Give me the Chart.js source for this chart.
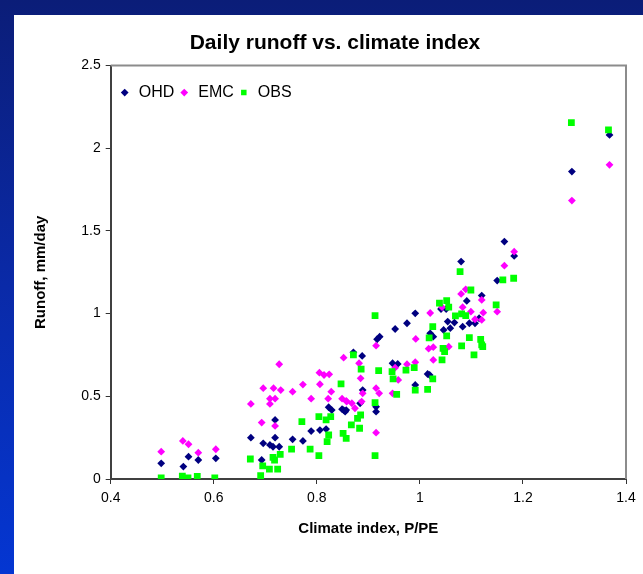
<!DOCTYPE html>
<html>
<head>
<meta charset="utf-8">
<script src="https://cdn.jsdelivr.net/npm/chart.js@4/dist/chart.umd.min.js"></script>
<style>
  html, body { margin: 0; padding: 0; }
  body {
    width: 643px; height: 574px; overflow: hidden; position: relative;
    background: linear-gradient(to bottom, #0b1d78 0%, #0a2aa8 50%, #0436d2 100%);
  }
  #panel { position: absolute; left: 14px; top: 15px; width: 629px; height: 559px; background: #fff; }
  #runoffChart { position: absolute; left: 0; top: 0; }
</style>
</head>
<body>
<div id="panel"><canvas id="runoffChart" width="629" height="559"></canvas></div>
<script>
// Datos: indice climatico (P/PE) y escorrentia (mm/dia)
const ohdX = [0.498, 0.541, 0.551, 0.570, 0.604, 0.672, 0.693, 0.696, 0.709, 0.715, 0.719, 0.719, 0.727, 0.753, 0.773,
  0.789, 0.806, 0.818, 0.823, 0.829, 0.849, 0.852, 0.855, 0.857, 0.871, 0.884, 0.888, 0.889, 0.915, 0.915,
  0.917, 0.922, 0.947, 0.952, 0.957, 0.975, 0.991, 0.991, 1.015, 1.019, 1.020, 1.026, 1.041, 1.046, 1.051,
  1.054, 1.059, 1.067, 1.080, 1.083, 1.091, 1.096, 1.107, 1.115, 1.120, 1.150, 1.164, 1.183, 1.295, 1.368];
const ohdY = [0.095, 0.075, 0.135, 0.115, 0.125, 0.250, 0.115, 0.216, 0.206, 0.195, 0.357, 0.250, 0.195, 0.240, 0.230,
  0.290, 0.296, 0.302, 0.434, 0.417, 0.422, 0.417, 0.407, 0.417, 0.766, 0.458, 0.744, 0.538, 0.437, 0.407,
  0.845, 0.861, 0.700, 0.907, 0.696, 0.942, 1.002, 0.569, 0.635, 0.629, 0.881, 0.861, 1.028, 0.901, 1.028,
  0.952, 0.912, 0.946, 1.315, 0.921, 1.077, 0.942, 0.942, 0.972, 1.109, 1.200, 1.436, 1.349, 1.859, 2.081];

const emcX = [0.498, 0.540, 0.551, 0.570, 0.604, 0.672, 0.693, 0.696, 0.709, 0.709, 0.716, 0.719, 0.719, 0.727, 0.730,
  0.753, 0.773, 0.789, 0.805, 0.806, 0.814, 0.822, 0.824, 0.828, 0.849, 0.852, 0.857, 0.858, 0.868, 0.874,
  0.882, 0.885, 0.887, 0.889, 0.915, 0.915, 0.915, 0.921, 0.947, 0.952, 0.958, 0.975, 0.991, 0.992, 1.017,
  1.020, 1.026, 1.026, 1.043, 1.046, 1.056, 1.080, 1.083, 1.089, 1.099, 1.107, 1.120, 1.120, 1.123, 1.150,
  1.164, 1.183, 1.295, 1.368];
const emcY = [0.165, 0.230, 0.210, 0.159, 0.180, 0.454, 0.341, 0.549, 0.486, 0.454, 0.549, 0.486, 0.321, 0.694, 0.538,
  0.528, 0.571, 0.486, 0.643, 0.573, 0.629, 0.486, 0.633, 0.528, 0.486, 0.734, 0.472, 0.468, 0.458, 0.428,
  0.700, 0.609, 0.468, 0.518, 0.806, 0.549, 0.280, 0.518, 0.518, 0.673, 0.599, 0.694, 0.706, 0.847, 0.788,
  1.004, 0.797, 0.720, 1.039, 0.780, 0.800, 1.119, 1.039, 1.147, 1.012, 0.966, 1.083, 0.962, 1.006, 1.012,
  1.290, 1.375, 1.684, 1.900];

const obsX = [0.498, 0.539, 0.550, 0.568, 0.602, 0.671, 0.691, 0.695, 0.708, 0.715, 0.718, 0.724, 0.729, 0.751, 0.771,
  0.787, 0.804, 0.804, 0.818, 0.820, 0.823, 0.827, 0.847, 0.851, 0.857, 0.867, 0.871, 0.879, 0.883, 0.885,
  0.886, 0.913, 0.913, 0.913, 0.920, 0.946, 0.948, 0.955, 0.973, 0.989, 0.991, 1.015, 1.018, 1.025, 1.025,
  1.038, 1.043, 1.045, 1.048, 1.052, 1.052, 1.056, 1.069, 1.078, 1.081, 1.081, 1.089, 1.096, 1.099, 1.105,
  1.118, 1.120, 1.122, 1.148, 1.161, 1.182, 1.294, 1.366];
const obsY = [0.006, 0.018, 0.006, 0.016, 0.006, 0.121, 0.020, 0.080, 0.060, 0.131, 0.115, 0.060, 0.149, 0.181, 0.347,
  0.181, 0.377, 0.141, 0.357, 0.226, 0.266, 0.377, 0.575, 0.276, 0.246, 0.327, 0.750, 0.367, 0.307, 0.387,
  0.665, 0.988, 0.462, 0.141, 0.655, 0.649, 0.605, 0.512, 0.659, 0.673, 0.538, 0.542, 0.854, 0.921, 0.605,
  1.063, 0.720, 0.790, 0.770, 1.079, 0.865, 1.039, 0.986, 1.254, 0.998, 0.805, 0.988, 0.855, 1.143, 0.750,
  0.845, 0.811, 0.800, 1.053, 1.204, 1.214, 2.155, 2.111];

const xTicks = [0.4, 0.6, 0.8, 1, 1.2, 1.4];
const yTicks = [0, 0.5, 1, 1.5, 2, 2.5];

const fontFamily = '"Liberation Sans", Arial, sans-serif';

function toPoints(xs, ys) {
    return xs.map((x, i) => ({ x: x, y: ys[i] }));
}

// marco gris arriba y a la derecha del area del grafico
const plotFrame = {
    id: 'plotFrame',
    beforeDatasetsDraw(chart) {
        const a = chart.chartArea;
        const c = chart.ctx;
        c.save();
        c.strokeStyle = '#8c8c8c';
        c.lineWidth = 2;
        c.beginPath();
        c.moveTo(a.left, a.top);
        c.lineTo(a.right, a.top);
        c.lineTo(a.right, a.bottom);
        c.stroke();
        c.restore();
    }
};

// la leyenda va dentro del area del grafico, arriba a la izquierda
const legendInside = {
    id: 'legendInside',
    beforeInit(chart) {
        if (!chart.legend) return;
        const fit = chart.legend.fit;
        chart.legend.fit = function () {
            fit.call(this);
            this.height = 0;
        };
    },
    afterLayout(chart) {
        const lg = chart.legend;
        const a = chart.chartArea;
        lg.left = a.left + 4;
        lg.top = a.top + 15;
        lg.right = a.right;
        lg.bottom = a.top + 45;
    }
};

const ctx = document.getElementById('runoffChart').getContext('2d');
const runoffChart = new Chart(ctx, {
    type: 'scatter',
    data: {
        datasets: [{
            label: 'OHD',
            data: toPoints(ohdX, ohdY),
            pointStyle: 'rectRot',
            pointRadius: 3.9,
            pointBorderWidth: 0,
            backgroundColor: '#000080',
            borderColor: '#000080',
            order: 2
        }, {
            label: 'EMC',
            data: toPoints(emcX, emcY),
            pointStyle: 'rectRot',
            pointRadius: 3.9,
            pointBorderWidth: 0,
            backgroundColor: '#ff00ff',
            borderColor: '#ff00ff',
            order: 1
        }, {
            label: 'OBS',
            data: toPoints(obsX, obsY),
            pointStyle: 'rect',
            pointRadius: 4.8,
            pointBorderWidth: 0,
            backgroundColor: '#00ff00',
            borderColor: '#00ff00',
            order: 0
        }]
    },
    options: {
        responsive: false,
        animation: false,
        devicePixelRatio: 1,
        layout: { padding: { left: 30, right: 17, top: 0, bottom: 0 } },
        plugins: {
            title: {
                display: true,
                text: 'Daily runoff vs. climate index',
                color: '#000',
                font: { family: fontFamily, size: 21, weight: 'bold' },
                padding: { top: 16, bottom: 9.4 }
            },
            legend: {
                display: true,
                position: 'top',
                align: 'start',
                labels: {
                    usePointStyle: true,
                    boxWidth: 12,
                    boxHeight: 5.5,
                    padding: 4,
                    color: '#000',
                    font: { family: fontFamily, size: 16 },
                    sort: (a, b) => a.datasetIndex - b.datasetIndex
                }
            },
            tooltip: { enabled: false }
        },
        scales: {
            x: {
                type: 'linear',
                min: 0.4,
                max: 1.4,
                afterBuildTicks: (s) => { s.ticks = xTicks.map(v => ({ value: v })); },
                afterFit: (s) => { s.height = 95; },
                ticks: {
                    color: '#000',
                    padding: 6,
                    font: { family: fontFamily, size: 14 },
                    callback: (v) => String(v)
                },
                grid: { drawOnChartArea: false, drawTicks: true, tickLength: 5, color: '#333', lineWidth: 1 },
                border: { color: '#404040', width: 2 },
                title: {
                    display: true,
                    text: 'Climate index, P/PE',
                    color: '#000',
                    font: { family: fontFamily, size: 15, weight: 'bold' },
                    padding: { top: 4, bottom: 36 }
                }
            },
            y: {
                type: 'linear',
                min: 0,
                max: 2.5,
                afterBuildTicks: (s) => { s.ticks = yTicks.map(v => ({ value: v })); },
                afterFit: (s) => { s.width = 66.7; },
                ticks: {
                    color: '#000',
                    padding: 5,
                    font: { family: fontFamily, size: 14 },
                    callback: (v) => String(v)
                },
                grid: { drawOnChartArea: false, drawTicks: true, tickLength: 5, color: '#333', lineWidth: 1 },
                border: { color: '#404040', width: 2 },
                title: {
                    display: true,
                    text: 'Runoff, mm/day',
                    color: '#000',
                    font: { family: fontFamily, size: 15, weight: 'bold' },
                    padding: { top: -12, bottom: 4 }
                }
            }
        }
    },
    plugins: [plotFrame, legendInside]
});
</script>
</body>
</html>
